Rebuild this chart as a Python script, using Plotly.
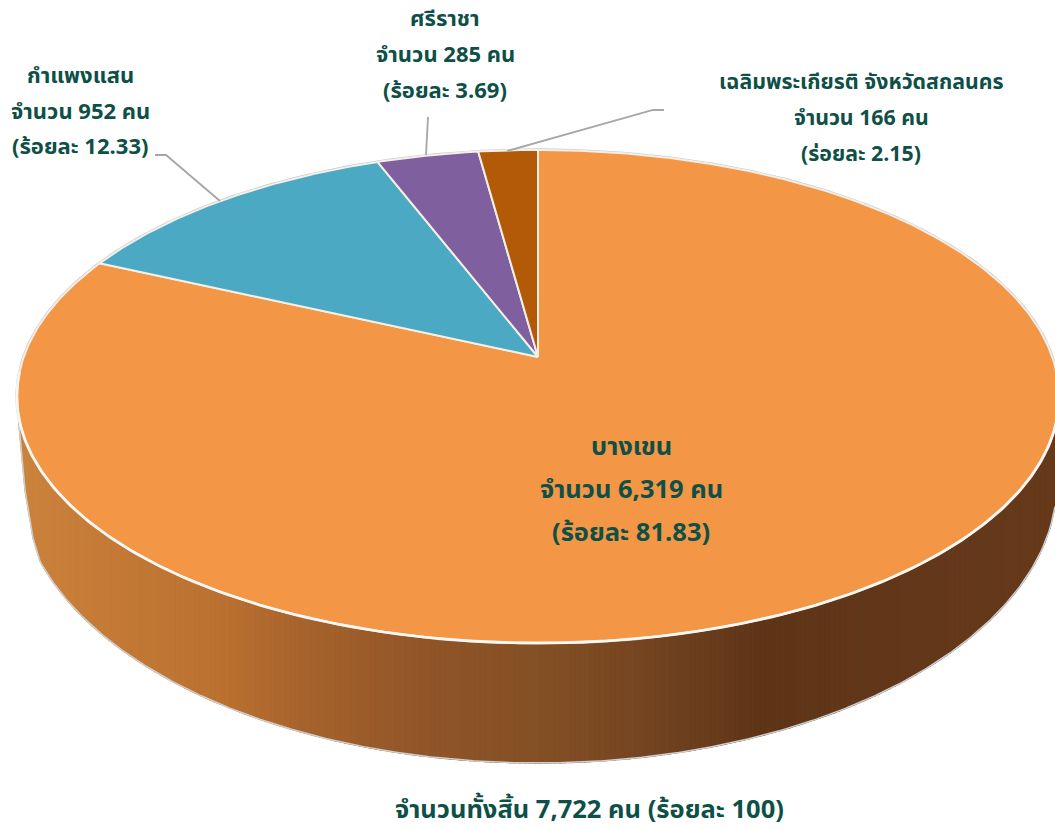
import numpy as np
import plotly.graph_objects as go

# ---- data ----
names = ["บางเขน", "กำแพงแสน", "ศรีราชา", "เฉลิมพระเกียรติ จังหวัดสกลนคร"]
counts = [6319, 952, 285, 166]
percents = ["81.83", "12.33", "3.69", "2.15"]
percent_words = ["ร้อยละ", "ร้อยละ", "ร้อยละ", "ร่อยละ"]
slice_colors = ["#F39645", "#4BA9C3", "#7F5F9E", "#B25A08"]
total_text = "จำนวนทั้งสิ้น 7,722 คน (ร้อยละ 100)"

# ---- projection of a tilted disc on page pixels ----
W, H = 1055, 829
AX, AY = 538.0, 357.0      # apex of the pie
A, B, K = 514.3, 240.2, 0.1602


def project(frac):
    """fraction of the turn, clockwise from 12 o'clock -> page pixels"""
    t = 2 * np.pi * np.asarray(frac)
    u, v = np.sin(t), np.cos(t)
    w = 1 + K * v
    return AX + A * u / w, AY - B * v / w


# lower rim of the wall, an ellipse with a straighter far-left run
BX, BY, BRX, BRY = 538.0, 482.0, 519.0, 281.0
LEFT_X, LEFT_Y = [19.0, 25.0, 33.0, 40.0], [425.0, 490.0, 538.0, 561.0]


def lower_rim(x):
    x = np.asarray(x, dtype=float)
    s = np.clip((x - BX) / BRX, -1, 1)
    y = BY + BRY * np.sqrt(1 - s * s)
    return np.where(x < LEFT_X[-1], np.interp(x, LEFT_X, LEFT_Y), y)


TOPC, TOPRX, TOPRY = 396.5, 521.0, 246.5


def top_rim(x):
    s = np.clip((x - AX) / TOPRX, -1, 1)
    return TOPC + TOPRY * np.sqrt(1 - s * s)


wall_stops_x = [16, 120, 230, 300, 420, 540, 640, 760, 900, 1055]
wall_stops_rgb = [(204, 131, 60), (196, 122, 54), (186, 112, 48), (168, 100, 45), (146, 86, 40),
                  (132, 80, 38), (118, 70, 34), (95, 53, 24), (99, 56, 26), (102, 58, 27)]

fig = go.Figure()

# wall as narrow vertical strips so it can carry a gradient
edges = np.r_[19.0, 22.0, 25.0, 29.0, 33.0, 36.5, np.arange(40, 1060, 5.0)]
for x0, x1 in zip(edges[:-1], edges[1:]):
    xm = (x0 + x1) / 2
    c = [int(np.interp(xm, wall_stops_x, [s[i] for s in wall_stops_rgb])) for i in range(3)]
    col = f"rgb({c[0]},{c[1]},{c[2]})"
    fig.add_trace(go.Scatter(
        x=[x0, x1, x1, x0, x0],
        y=[top_rim(x0) - 4, top_rim(x1) - 4, lower_rim(x1), lower_rim(x0), top_rim(x0) - 4],
        mode="lines", fill="toself", fillcolor=col, line=dict(color=col, width=1.3),
        hoverinfo="skip", showlegend=False))

# grey silhouette of the wall's lower rim
xs = np.r_[19.0, 25.0, 33.0, np.linspace(40, 1055, 500)]
fig.add_trace(go.Scatter(x=xs, y=lower_rim(xs), mode="lines", line=dict(color="#CFCFCF", width=1.5),
                         hoverinfo="skip", showlegend=False))

# top face: grey halo, then the slices with pale borders
ring = np.linspace(0, 1, 720)
rx, ry = project(ring)
fig.add_trace(go.Scatter(x=rx, y=ry, mode="lines", line=dict(color="#C9C9C9", width=3.2),
                         hoverinfo="skip", showlegend=False))

fr = np.cumsum([0] + counts) / sum(counts)
for i, col in enumerate(slice_colors):
    f = np.linspace(fr[i], fr[i + 1], max(8, int((fr[i + 1] - fr[i]) * 720)))
    px, py = project(f)
    fig.add_trace(go.Scatter(
        x=np.r_[AX, px, AX], y=np.r_[AY, py, AY],
        mode="lines", fill="toself", fillcolor=col,
        line=dict(color="#F4EFE8", width=2),
        hoverinfo="skip", showlegend=False))

# brighter white along the front edge of the top face
front = np.linspace(0.26, 0.74, 360)
fx, fy = project(front)
fig.add_trace(go.Scatter(x=fx, y=fy, mode="lines", line=dict(color="#FBF7F2", width=2.6),
                         hoverinfo="skip", showlegend=False))

# leader lines
leaders = [([155, 166, 220], [155, 155, 201]),
           ([428, 426], [117, 155]),
           ([507, 653, 664], [151, 110, 110])]
for lx, ly in leaders:
    fig.add_trace(go.Scatter(x=lx, y=ly, mode="lines", line=dict(color="#A6A6A6", width=1.8),
                             hoverinfo="skip", showlegend=False))

FONT = "Noto Sans Thai, Noto Sans Thai UI, Sarabun, Loma, Garuda, Noto Sans, sans-serif"
TXT = "#0E4F47"


def lines_for(i):
    return [names[i], f"จำนวน {counts[i]:,} คน", f"({percent_words[i]} {percents[i]})"]


placements = [(631, [447, 490, 533], 25.5), (80, [76, 112, 147], 22),
              (445, [19, 55, 91], 22), (861, [82, 118, 154], 21.3)]
annots = []
for i, (cx, ys, fs) in enumerate(placements):
    for t, y in zip(lines_for(i), ys):
        annots.append(dict(x=cx, y=y, text=f"<b>{t}</b>", showarrow=False, xref="x", yref="y",
                           font=dict(family=FONT, size=fs, color=TXT)))
annots.append(dict(x=589, y=810, text=f"<b>{total_text}</b>", showarrow=False, xref="x", yref="y",
                   font=dict(family=FONT, size=25.5, color=TXT)))

fig.update_layout(
    width=W, height=H, margin=dict(l=0, r=0, t=0, b=0),
    paper_bgcolor="white", plot_bgcolor="white", annotations=annots, showlegend=False,
    xaxis=dict(range=[0, W], visible=False, fixedrange=True),
    yaxis=dict(range=[H, 0], visible=False, fixedrange=True),
)
fig.write_html("out.html", config=dict(displayModeBar=False),
               post_script="document.body.style.margin='0';document.body.style.overflow='hidden';")
